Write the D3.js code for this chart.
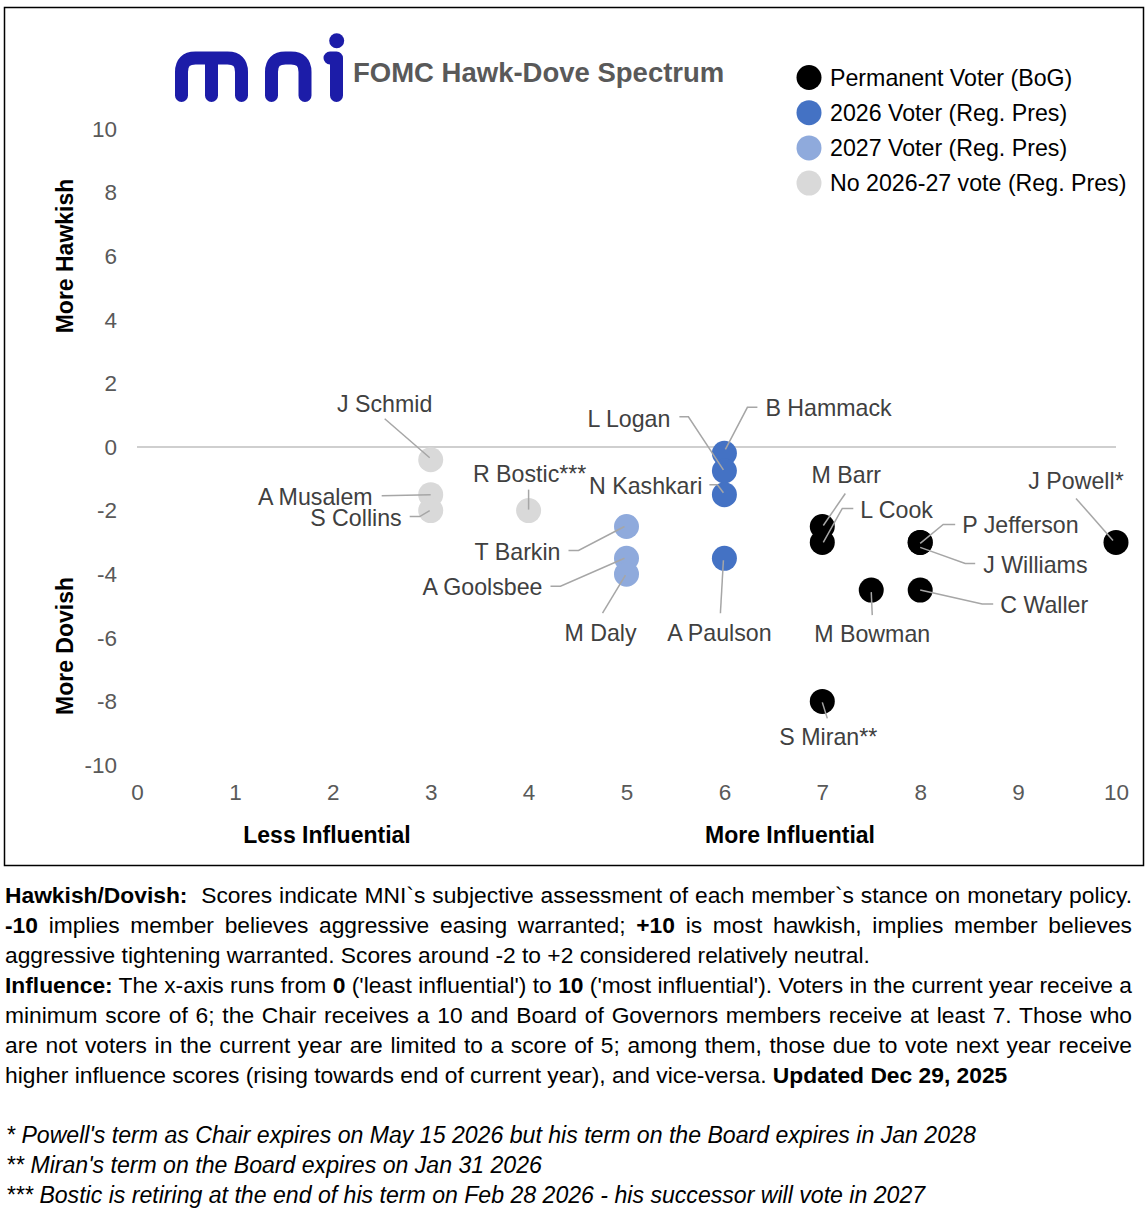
<!DOCTYPE html>
<html>
<head>
<meta charset="utf-8">
<script src="https://cdn.jsdelivr.net/npm/d3@7"></script>
<style>
  body { margin: 0; background: #fff; }
  svg { display: block; font-family: "Liberation Sans", Arial, sans-serif; }
</style>
</head>
<body>
<svg id="chart"></svg>
<script>
var width = 1148, height = 1212
var font = "'Liberation Sans', Arial, sans-serif"

// members of the committee
var members = ["J Schmid", "A Musalem", "S Collins", "R Bostic***",
    "T Barkin", "A Goolsbee", "M Daly",
    "B Hammack", "L Logan", "N Kashkari", "A Paulson",
    "M Barr", "L Cook", "M Bowman", "P Jefferson", "J Williams", "C Waller", "J Powell*", "S Miran**"]
var influence = [3, 3, 3, 4, 5, 5, 5, 6, 6, 6, 6, 7, 7, 7.5, 8, 8, 8, 10, 7]
var stance = [-0.4, -1.5, -2, -2, -2.5, -3.5, -4, -0.2, -0.75, -1.5, -3.5, -2.5, -3, -4.5, -3, -3, -4.5, -3, -8]
var group = [3, 3, 3, 3, 2, 2, 2, 1, 1, 1, 1, 0, 0, 0, 0, 0, 0, 0, 0]

var groups = ["Permanent Voter (BoG)", "2026 Voter (Reg. Pres)", "2027 Voter (Reg. Pres)", "No 2026-27 vote (Reg. Pres)"]
var groupColours = ["#000000", "#4472c4", "#8faadc", "#d9d9d9"]

var xTicks = d3.range(0, 11, 1)
var yTicks = d3.range(-10, 11, 2)

// label placement, offsets in px from the dot
var labelLayout = {
    "J Schmid":    {anchor: "middle", at: [-46, -56], line: [[-46, -41], [-1, -2]]},
    "A Musalem":   {anchor: "end",    at: [-58, 2],   line: [[-49, 1], [0, 0]]},
    "S Collins":   {anchor: "end",    at: [-29, 7],   line: [[-21, 6], [-11, 6], [-1, 0]]},
    "R Bostic***": {anchor: "middle", at: [1, -37],   line: [[0, -21], [0, -1]]},
    "T Barkin":    {anchor: "end",    at: [-66, 25],  line: [[-58, 24], [-48, 24], [-2, 0]]},
    "A Goolsbee":  {anchor: "end",    at: [-84, 29],  line: [[-76, 28], [-66, 28], [-2, 0]]},
    "M Daly":      {anchor: "middle", at: [-26, 59],  line: [[-24, 39], [-1, 1]]},
    "B Hammack":   {anchor: "start",  at: [41, -45],  line: [[33, -46], [23, -46], [1, -4]]},
    "L Logan":     {anchor: "end",    at: [-54, -52], line: [[-45, -54], [-36, -54], [-1, -1]]},
    "N Kashkari":  {anchor: "end",    at: [-22, -9],  line: [[-15, -10], [-7, -10], [-1, -2]]},
    "A Paulson":   {anchor: "middle", at: [-5, 75],   line: [[-4, 55], [-1, 2]]},
    "M Barr":      {anchor: "middle", at: [24, -52],  line: [[23, -33], [1, -1]]},
    "L Cook":      {anchor: "start",  at: [38, -32],  line: [[31, -34], [20, -34], [1, 0]]},
    "M Bowman":    {anchor: "middle", at: [1, 44],    line: [[1, 25], [0, 2]]},
    "P Jefferson": {anchor: "start",  at: [42, -17],  line: [[35, -18], [23, -18], [0, 1]]},
    "J Williams":  {anchor: "start",  at: [63, 23],   line: [[55, 21], [45, 21], [0, 5]]},
    "C Waller":    {anchor: "start",  at: [80, 15],   line: [[73, 14], [62, 14], [0, 0]]},
    "J Powell*":   {anchor: "middle", at: [-40, -61], line: [[-40, -44], [-3, -2]]},
    "S Miran**":   {anchor: "middle", at: [6, 36],    line: [[5, 17], [0, 1]]}
}

// notes under the chart
var noteLines = [
    [{t: "Hawkish/Dovish:", b: 1}, {t: "  Scores indicate MNI`s subjective assessment of each member`s stance on monetary policy."}],
    [{t: "-10", b: 1}, {t: " implies member believes aggressive easing warranted; "}, {t: "+10", b: 1}, {t: " is most hawkish, implies member believes"}],
    [{t: "aggressive tightening warranted. Scores around -2 to +2 considered relatively neutral."}],
    [{t: "Influence:", b: 1}, {t: " The x-axis runs from "}, {t: "0", b: 1}, {t: " ('least influential') to "}, {t: "10", b: 1}, {t: " ('most influential'). Voters in the current year receive a"}],
    [{t: "minimum score of 6; the Chair receives a 10 and Board of Governors members receive at least 7. Those who"}],
    [{t: "are not voters in the current year are limited to a score of 5; among them, those due to vote next year receive"}],
    [{t: "higher influence scores (rising towards end of current year), and vice-versa. "}, {t: "Updated Dec 29, 2025", b: 1}]
]
var noteJustify = [true, true, false, true, true, true, false]
var footnotes = [
    "* Powell's term as Chair expires on May 15 2026 but his term on the Board expires in Jan 2028",
    "** Miran's term on the Board expires on Jan 31 2026",
    "*** Bostic is retiring at the end of his term on Feb 28 2026 - his successor will vote in 2027"
]

var svg = d3.select("#chart")
    .attr("width", width)
    .attr("height", height)

svg.append("rect")
    .attr("x", 4.5).attr("y", 7.5)
    .attr("width", 1139).attr("height", 858)
    .attr("fill", "none")
    .attr("stroke", "#000")
    .attr("stroke-width", 1.5)

var x = d3.scaleLinear().domain([0, 10]).range([137, 1116])
var y = d3.scaleLinear().domain([-10, 10]).range([765, 129])

// logo
var logo = svg.append("g")
    .attr("fill", "none")
    .attr("stroke", "#1c1ca8")
    .attr("stroke-width", 13)
    .attr("stroke-linecap", "round")
    .attr("stroke-linejoin", "round")
logo.append("path").attr("d", "M181.5,95.5 V72 Q181.5,58 195.5,58 H227.5 Q241.5,58 241.5,72 V95.5 M211.5,58 V95.5")
logo.append("path").attr("d", "M271.5,95.5 V72 Q271.5,58 285.5,58 H291 Q305,58 305,72 V95.5")
logo.append("path").attr("d", "M330,58 H336.5 V95.5")
svg.append("circle").attr("cx", 336.7).attr("cy", 40.7).attr("r", 7.5).attr("fill", "#1c1ca8")

svg.append("text")
    .attr("x", 353).attr("y", 72)
    .attr("dominant-baseline", "central")
    .attr("font-size", 27.5).attr("font-weight", "bold")
    .attr("fill", "#595959")
    .text("FOMC Hawk-Dove Spectrum")

// axes
var yAxis = svg.append("g")
    .attr("transform", "translate(137,0)")
    .call(d3.axisLeft(y).tickValues(yTicks).tickSize(0).tickPadding(20).tickFormat(d3.format("d")))
yAxis.select(".domain").remove()
yAxis.selectAll("text")
    .attr("font-size", 22.5)
    .attr("font-family", font)
    .attr("fill", "#595959")
    .text(d => d < 0 ? "-" + Math.abs(d) : d)

var xAxis = svg.append("g")
    .attr("transform", "translate(0,765)")
    .call(d3.axisBottom(x).tickValues(xTicks).tickSize(0).tickPadding(19))
xAxis.select(".domain").remove()
xAxis.selectAll("text")
    .attr("font-size", 22.5)
    .attr("font-family", font)
    .attr("fill", "#595959")

svg.append("line")
    .attr("x1", x(0)).attr("x2", x(10))
    .attr("y1", y(0)).attr("y2", y(0))
    .attr("stroke", "#bfbfbf")
    .attr("stroke-width", 1.5)

// axis titles
var titles = [
    {t: "More Hawkish", x: 65, y: 256, r: -90},
    {t: "More Dovish", x: 65, y: 646, r: -90},
    {t: "Less Influential", x: 327, y: 835, r: 0},
    {t: "More Influential", x: 790, y: 835, r: 0}
]
svg.selectAll(".atitle")
    .data(titles)
    .enter()
    .append("text")
        .attr("class", "atitle")
        .attr("transform", d => "translate(" + d.x + "," + d.y + ") rotate(" + d.r + ")")
        .attr("text-anchor", "middle")
        .attr("dominant-baseline", "central")
        .attr("font-size", 23)
        .attr("font-weight", "bold")
        .text(d => d.t)

// dots
var pts = members.map((m, i) => ({name: m, x: influence[i], y: stance[i], g: group[i]}))

svg.append("g").selectAll("circle")
    .data(pts)
    .enter()
    .append("circle")
        .attr("cx", d => x(d.x))
        .attr("cy", d => y(d.y))
        .attr("r", 12.5)
        .attr("fill", d => groupColours[d.g])

// leader lines
var line = d3.line()
svg.append("g").selectAll("path")
    .data(pts)
    .enter()
    .append("path")
        .attr("d", d => line(labelLayout[d.name].line.map(p => [x(d.x) + p[0], y(d.y) + p[1]])))
        .attr("fill", "none")
        .attr("stroke", "#a6a6a6")
        .attr("stroke-width", 1.5)

svg.append("g").selectAll("text")
    .data(pts)
    .enter()
    .append("text")
        .attr("x", d => x(d.x) + labelLayout[d.name].at[0])
        .attr("y", d => y(d.y) + labelLayout[d.name].at[1])
        .attr("text-anchor", d => labelLayout[d.name].anchor)
        .attr("dominant-baseline", "central")
        .attr("font-size", 23.2)
        .attr("fill", "#404040")
        .text(d => d.name)

// legend
var legend = svg.append("g").selectAll("g")
    .data(groups)
    .enter()
    .append("g")
        .attr("transform", (d, i) => "translate(809," + (77.5 + i * 35.2) + ")")
legend.append("circle")
    .attr("r", 12.5)
    .attr("fill", (d, i) => groupColours[i])
legend.append("text")
    .attr("x", 21)
    .attr("dominant-baseline", "central")
    .attr("font-size", 23.2)
    .attr("fill", "#000")
    .text(d => d)

// notes
var noteWidth = 1127
noteLines.forEach(function(parts, i) {
    var t = svg.append("text")
        .attr("x", 5)
        .attr("y", 903 + i * 30)
        .attr("font-size", 22.8)
        .style("white-space", "pre")
    parts.forEach(p => t.append("tspan").attr("font-weight", p.b ? "bold" : null).text(p.t))
    if (noteJustify[i]) {
        var w = t.node().getComputedTextLength()
        var n = parts.map(p => p.t).join("").split(" ").length - 1
        t.style("word-spacing", ((noteWidth - w) / n) + "px")
    }
})

svg.selectAll(".fn")
    .data(footnotes)
    .enter()
    .append("text")
        .attr("class", "fn")
        .attr("x", 6)
        .attr("y", (d, i) => 1143 + i * 30)
        .attr("font-size", 23.1)
        .attr("font-style", "italic")
        .style("white-space", "pre")
        .text(d => d)
</script>
</body>
</html>
